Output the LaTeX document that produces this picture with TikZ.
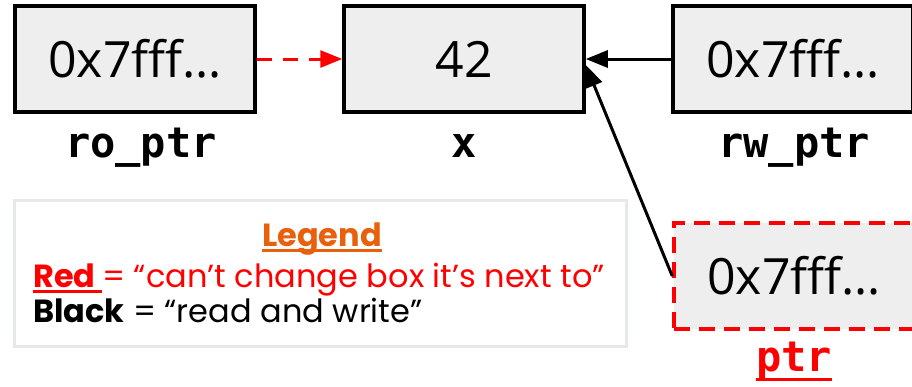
\documentclass[tikz,border=0pt]{standalone}
\usepackage{fontspec}
\setmainfont{Open Sans}
\newfontfamily\legendfont{Poppins}
\newfontfamily\labelfont{DejaVu Sans Mono}
\usetikzlibrary{arrows.meta}

\definecolor{boxgray}{HTML}{EEEEEE}
\definecolor{legendorange}{HTML}{E8600C}
\definecolor{legendframe}{HTML}{E6E9E9}

% underline drawn as a rule of the text's width, #1 below the baseline
\newcommand\ulbar[2][6pt]{\leavevmode\setbox0\hbox{#2}\rlap{\rule[-#1]{\wd0}{2.8pt}}\box0}

\tikzset{
  cell/.style={draw=black, line width=3.5pt, fill=boxgray,
    minimum width=240pt, minimum height=106pt, inner sep=0pt,
    font=\fontsize{50}{58}\selectfont},
  varname/.style={anchor=base, font=\labelfont\bfseries\fontsize{42}{50}\selectfont},
  ptrarrow/.style={line width=3pt, -{Triangle[length=22pt,width=17pt]}},
  legendline/.style={anchor=base west, inner sep=0pt,
    font=\legendfont\fontsize{32}{38}\selectfont}
}

\begin{document}
\begin{tikzpicture}[x=1pt,y=-1pt]
\useasboundingbox (0,0) rectangle (912,386);
\clip (0,0) rectangle (912,386);

% memory cells
\node[cell] (ro) at (135,59) {0x7fff…};
\node[cell] (x)  at (464,59) {42};
\node[cell] (rw) at (793,59) {0x7fff…};
\node[cell, draw=red, dash pattern=on 16pt off 9pt] (ptr) at (794,276) {0x7fff…};

% variable names
\node[varname] (rolabel) at (141,157) {ro\_ptr};
\node[varname] (xlabel)  at (464,157) {x};
\node[varname] (rwlabel) at (794,157) {rw\_ptr};
\node[varname, red] (ptrlabel) at (794,371) {\ulbar[10pt]{ptr}};

% references
\draw[ptrarrow, red, dash pattern=on 15pt off 11pt] (ro.east) -- (x.west);
\draw[ptrarrow] (rw.west) -- (x.east);
\draw[ptrarrow] (ptr.west) -- ([yshift=-6pt]x.east);

% legend
\draw[legendframe, line width=3pt] (14.5,200.5) rectangle (626.5,346.5);
\node[legendline, anchor=base, legendorange] (legtitle) at (322,246)
  {\bfseries\ulbar[6pt]{Legend}};
\node[legendline, red] (legred) at (33,287)
  {\ulbar[6pt]{\bfseries Red\ }= “can’t change box it’s next to”};
\node[legendline, black] (legblack) at (33,322)
  {\textbf{Black} = “read and write”};
\end{tikzpicture}
\end{document}
